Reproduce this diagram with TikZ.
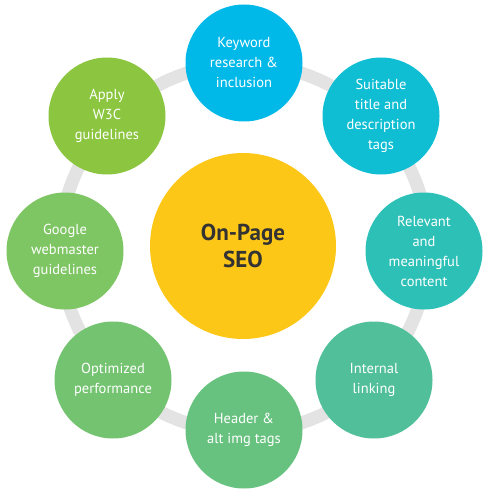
\documentclass[tikz,border=0pt]{standalone}
\usepackage{fontspec}
\setmainfont{PT Sans}
\definecolor{kwblue}{HTML}{00B9E9}
\definecolor{tagcyan}{HTML}{10BED4}
\definecolor{contteal}{HTML}{2DC0B6}
\definecolor{linkgreen}{HTML}{52BF9B}
\definecolor{hdrgreen}{HTML}{68C27F}
\definecolor{perfgreen}{HTML}{73C370}
\definecolor{gwmgreen}{HTML}{7EC563}
\definecolor{wthreegreen}{HTML}{8CC640}
\definecolor{hubyellow}{HTML}{FDC717}
\definecolor{ringgray}{HTML}{E3E3E3}
\definecolor{hubtext}{HTML}{333333}
\usetikzlibrary{positioning}

\begin{document}
\begin{tikzpicture}[x=1pt, y=-1pt,
    topic/.style={circle, minimum size=117pt, inner sep=0pt, align=center,
                  text=white, font=\fontsize{14.5}{20}\selectfont},
    hub/.style={circle, minimum size=186pt, inner sep=0pt, align=center,
                fill=hubyellow, text=hubtext, font=\bfseries\fontsize{23}{27}\selectfont},
    ring/.style={draw=ringgray, line width=13pt}
  ]
    \useasboundingbox (0,0) rectangle (492,492);
    \draw[ring] (244,248) circle[radius=184];

    \node[hub] (hub) at (243,246) {On-Page\\SEO};

    \node[topic, fill=kwblue] (t1) at (244,63)
      {Keyword\\research \&\\inclusion};
    \node[topic, fill=tagcyan] (t2) at (381,116)
      {Suitable\\title and\\description\\tags};
    \node[topic, fill=contteal] (t3) at (424,251)
      {Relevant\\and\\meaningful\\content};
    \node[topic, fill=linkgreen] (t4) at (374,380)
      {Internal\\linking};
    \node[topic, fill=hdrgreen] (t5) at (244,430)
      {Header \&\\alt img tags};
    \node[topic, fill=perfgreen] (t6) at (113,380)
      {Optimized\\performance};
    \node[topic, fill=gwmgreen] (t7) at (65,251)
      {Google\\webmaster\\guidelines};
    \node[topic, fill=wthreegreen] (t8) at (107,116)
      {Apply\\W3C\\guidelines};
  \end{tikzpicture}
\end{document}
